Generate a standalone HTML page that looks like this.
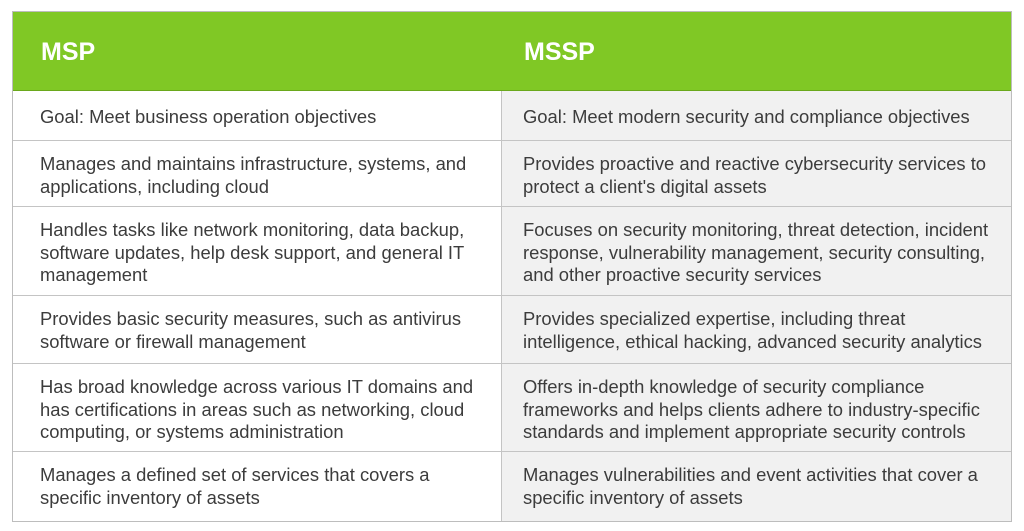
<!DOCTYPE html>
<html><head><style>
body{margin:0;background:#fff;width:1024px;height:531px;overflow:hidden;font-family:"Liberation Sans",Arial,sans-serif;}
.t{position:absolute;left:12px;top:11px;width:1000px;border:1px solid #bdbdbd;box-sizing:border-box;}
.hd{position:absolute;left:0;top:0;width:998px;height:78px;background:#80c825;border-bottom:1px solid #6aa81c;}
.hd div{position:absolute;top:26px;color:#fff;font-weight:bold;font-size:25px;}
.r{position:absolute;left:0;width:998px;border-bottom:1px solid #c4c4c4;}
.c{position:absolute;top:0;bottom:0;font-size:18.4px;line-height:22.5px;color:#3c3c3c;box-sizing:border-box;white-space:nowrap;}
.l{left:0;width:488px;padding:12px 0 0 27px;background:#fff;}
.rt{left:488px;width:510px;padding:12px 0 0 21px;background:#f1f1f1;border-left:1px solid #c4c4c4;}
</style></head><body>
<div class="t" style="height:511px">
<div class="hd"><div style="left:28px">MSP</div><div style="left:511px">MSSP</div></div>
<div class="r" style="top:79px;height:49px"><div class="c l" style="padding-top:15px">Goal: Meet business operation objectives</div><div class="c rt" style="padding-top:15px">Goal: Meet modern security and compliance objectives</div></div>
<div class="r" style="top:129px;height:65px"><div class="c l">Manages and maintains infrastructure, systems, and<br>applications, including cloud</div><div class="c rt">Provides proactive and reactive cybersecurity services to<br>protect a client's digital assets</div></div>
<div class="r" style="top:195px;height:88px"><div class="c l">Handles tasks like network monitoring, data backup,<br>software updates, help desk support, and general IT<br>management</div><div class="c rt">Focuses on security monitoring, threat detection, incident<br>response, vulnerability management, security consulting,<br>and other proactive security services</div></div>
<div class="r" style="top:284px;height:67px"><div class="c l">Provides basic security measures, such as antivirus<br>software or firewall management</div><div class="c rt">Provides specialized expertise, including threat<br>intelligence, ethical hacking, advanced security analytics</div></div>
<div class="r" style="top:352px;height:87px"><div class="c l">Has broad knowledge across various IT domains and<br>has certifications in areas such as networking, cloud<br>computing, or systems administration</div><div class="c rt">Offers in-depth knowledge of security compliance<br>frameworks and helps clients adhere to industry-specific<br>standards and implement appropriate security controls</div></div>
<div class="r" style="top:440px;height:69px;border-bottom:none"><div class="c l">Manages a defined set of services that covers a<br>specific inventory of assets</div><div class="c rt">Manages vulnerabilities and event activities that cover a<br>specific inventory of assets</div></div>
</div>
</body></html>
